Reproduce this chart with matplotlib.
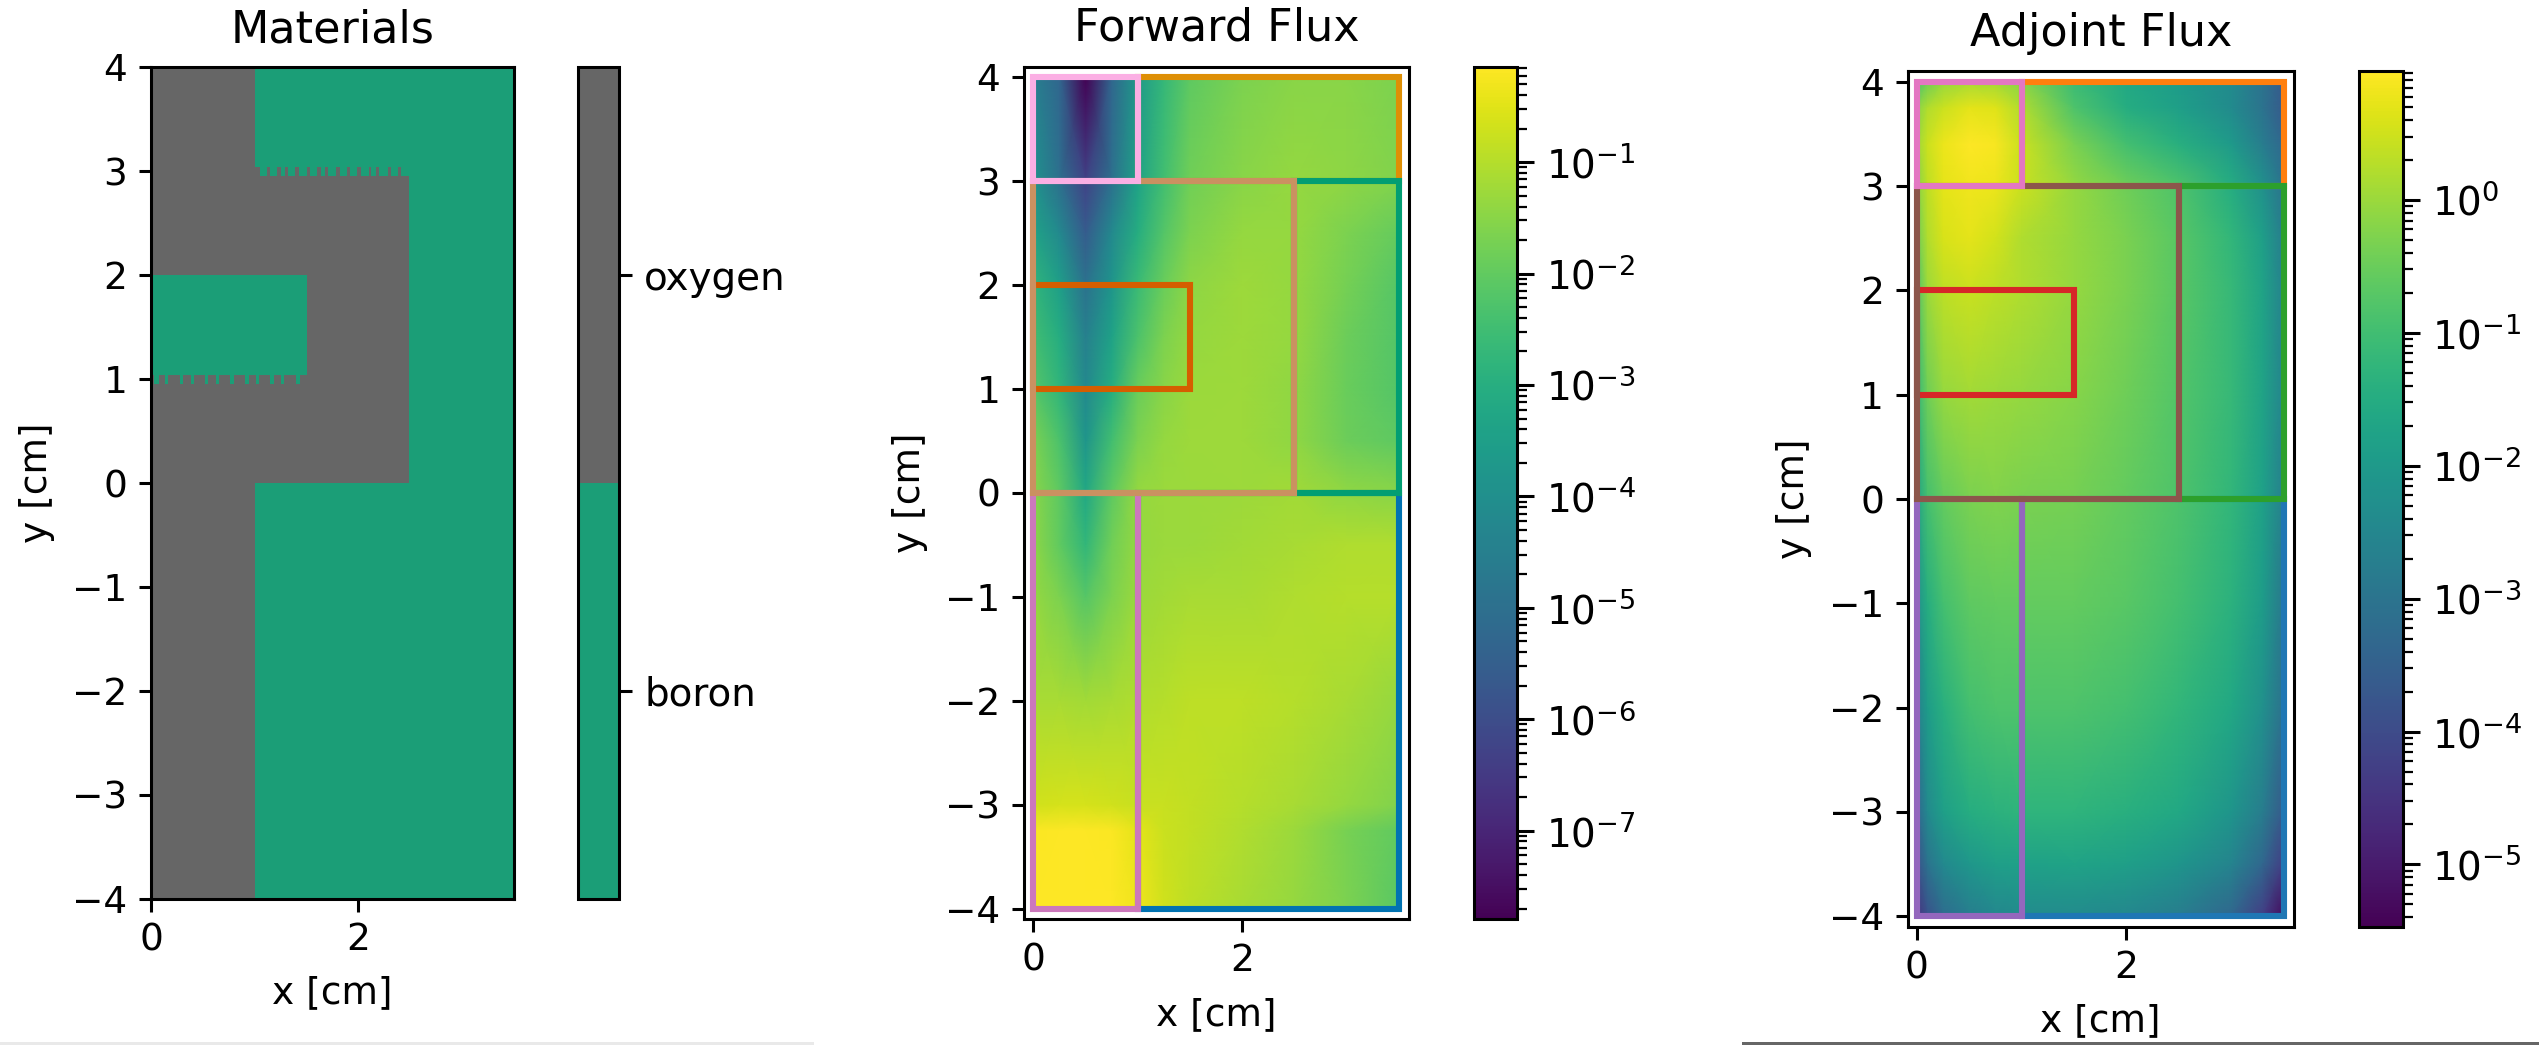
import numpy as np
import matplotlib
matplotlib.use("Agg")
import matplotlib.pyplot as plt
from matplotlib.colors import ListedColormap, BoundaryNorm, LogNorm
from matplotlib.patches import Rectangle
from matplotlib.ticker import LogLocator, NullFormatter

W, H = 2539, 1045
DPI = 100
TICK_FS = 27
LABEL_FS = 27
TITLE_FS = 32
plt.rcParams.update({
    "font.family": ["DejaVu Sans"],
    "font.size": TICK_FS,
    "axes.linewidth": 2.2,
    "xtick.major.size": 9, "ytick.major.size": 9,
    "xtick.major.width": 2.2, "ytick.major.width": 2.2,
    "ytick.minor.size": 5, "ytick.minor.width": 1.6,
    "xtick.major.pad": 8, "ytick.major.pad": 8,
})

# ---- data ----
material_names = ["boron", "oxygen"]
material_colors = ["#1b9e77", "#666666"]

# (x0, x1, y0, y1) rectangles of boron inside the oxygen background
boron_x0 = [1.0, 2.49, 1.0, 0.02]
boron_x1 = [3.5, 3.5, 3.5, 1.505]
boron_y0 = [-4.0, -4.0, 3.04, 1.04]
boron_y1 = [0.0, 4.0, 4.0, 2.0]

# jagged row under y=3: oxygen gaps inside a boron strip
row3_y = [2.954, 3.04]
row3_strip = [1.0, 2.49]
row3_gap_start = [1.007, 1.116, 1.213, 1.293, 1.393, 1.503, 1.605, 1.676, 1.789, 1.889, 1.992, 2.101, 2.168, 2.284, 2.384]
row3_gap_end = [1.049, 1.149, 1.252, 1.326, 1.432, 1.531, 1.644, 1.708, 1.821, 1.924, 2.030, 2.123, 2.201, 2.313, 2.416]

# jagged row under y=1: boron teeth
row1_y = [0.952, 1.04]
row1_tooth_start = [0.029, 0.135, 0.280, 0.383, 0.521, 0.624, 0.763, 0.907, 1.010, 1.149, 1.255, 1.397]
row1_tooth_end = [0.077, 0.167, 0.312, 0.415, 0.553, 0.656, 0.801, 0.946, 1.043, 1.187, 1.287, 1.438]

# regions: x0, x1, y0, y1
region_x0 = [1.0, 1.0, 2.5, 0.0, 0.0, 0.0, 0.0]
region_x1 = [3.5, 3.5, 3.5, 1.5, 1.0, 2.5, 1.0]
region_y0 = [-4.0, 3.0, 0.0, 1.0, -4.0, 0.0, 3.0]
region_y1 = [0.0, 4.0, 3.0, 2.0, 0.0, 3.0, 4.0]
forward_region_colors = ["#0173b2", "#de8f05", "#029e73", "#d55e00", "#cc78bc", "#ca9161", "#fbafe4"]
adjoint_region_colors = ["#1f77b4", "#ff7f0e", "#2ca02c", "#d62728", "#9467bd", "#8c564b", "#e377c2"]

# forward flux, log10
fwd_x = [0.0, 0.25, 0.5, 0.75, 1.0, 1.25, 1.5, 2.0, 2.5, 3.0, 3.5]
fwd_y = [4.0, 3.0, 2.5, 2.0, 1.5, 1.0, 0.5, 0.0, -0.5, -1.0, -2.0, -3.0, -3.25, -4.0]
fwd_log = [
    [-4.5, -5.3, -7.8, -5.3, -3.7, -2.7, -2.05, -1.65, -1.5, -1.5, -1.65],
    [-3.9, -5.0, -6.3, -5.0, -3.4, -2.45, -1.8, -1.5, -1.35, -1.45, -1.6],
    [-3.35, -4.2, -5.6, -4.2, -3.05, -2.2, -1.65, -1.35, -1.35, -1.65, -1.95],
    [-2.8, -3.5, -4.9, -3.8, -2.6, -1.9, -1.45, -1.25, -1.35, -1.75, -2.15],
    [-2.45, -3.05, -4.5, -3.4, -2.3, -1.65, -1.35, -1.25, -1.35, -1.85, -2.2],
    [-2.15, -2.8, -4.2, -3.05, -1.9, -1.5, -1.3, -1.25, -1.4, -1.9, -2.2],
    [-1.65, -2.3, -3.8, -2.45, -1.65, -1.35, -1.25, -1.25, -1.4, -1.85, -2.05],
    [-1.5, -2.05, -3.2, -2.05, -1.35, -1.3, -1.3, -1.25, -1.2, -1.4, -1.5],
    [-1.45, -2.0, -2.75, -1.8, -1.35, -1.3, -1.3, -1.2, -1.15, -1.05, -1.05],
    [-1.35, -1.65, -2.15, -1.65, -1.3, -1.2, -1.15, -1.15, -1.05, -1.0, -1.0],
    [-1.15, -1.15, -1.2, -1.15, -1.05, -1.0, -0.9, -0.9, -1.0, -1.15, -1.35],
    [-0.7, -0.65, -0.65, -0.7, -0.8, -0.8, -0.85, -1.0, -1.15, -1.35, -1.6],
    [-0.2, -0.15, -0.15, -0.2, -0.45, -0.75, -0.85, -1.05, -1.3, -1.7, -2.0],
    [-0.15, -0.15, -0.15, -0.15, -0.3, -0.7, -0.9, -1.15, -1.35, -1.65, -2.1],
]
fwd_vmin, fwd_vmax = 1.6e-8, 0.72
fwd_decades = [1e-7, 1e-6, 1e-5, 1e-4, 1e-3, 1e-2, 1e-1]

# adjoint flux, log10
adj_x = [0.0, 0.1, 0.25, 0.5, 0.75, 1.0, 1.5, 2.0, 2.5, 3.0, 3.3, 3.5]
adj_y = [4.0, 3.75, 3.4, 3.0, 2.5, 2.0, 1.0, 0.0, -1.0, -2.0, -3.0, -3.5, -4.0]
adj_log = [
    [-0.83, -0.45, -0.06, 0.13, 0.07, -0.19, -1.09, -1.61, -1.93, -2.38, -3.02, -3.67],
    [-0.19, 0.20, 0.45, 0.71, 0.65, 0.20, -0.83, -1.48, -1.86, -2.38, -3.02, -3.67],
    [0.00, 0.45, 0.78, 0.97, 0.91, 0.45, -0.32, -0.96, -1.41, -1.99, -2.77, -3.34],
    [-0.19, 0.33, 0.71, 0.84, 0.78, 0.45, -0.06, -0.45, -0.83, -1.48, -2.25, -3.02],
    [-0.45, 0.20, 0.58, 0.71, 0.52, 0.20, -0.06, -0.32, -0.70, -1.22, -1.86, -2.77],
    [-0.83, 0.00, 0.33, 0.45, 0.33, 0.20, -0.06, -0.32, -0.70, -1.15, -1.73, -2.64],
    [-1.22, -0.45, -0.06, 0.07, 0.00, -0.06, -0.19, -0.45, -0.77, -1.15, -1.73, -2.57],
    [-1.73, -0.96, -0.58, -0.32, -0.25, -0.32, -0.38, -0.58, -0.83, -1.22, -1.80, -2.70],
    [-2.25, -1.48, -0.96, -0.64, -0.58, -0.58, -0.58, -0.70, -0.96, -1.35, -1.93, -2.89],
    [-2.70, -1.93, -1.41, -0.96, -0.83, -0.83, -0.83, -0.96, -1.22, -1.61, -2.25, -3.09],
    [-3.34, -2.44, -1.86, -1.48, -1.35, -1.28, -1.28, -1.41, -1.61, -2.12, -2.77, -3.67],
    [-3.86, -3.02, -2.44, -2.06, -1.86, -1.80, -1.73, -1.86, -2.12, -2.57, -3.34, -4.31],
    [-4.50, -3.86, -3.22, -2.77, -2.50, -2.38, -2.38, -2.50, -2.77, -3.34, -4.31, -5.28],
]
adj_vmin, adj_vmax = 3.4e-6, 9.3
adj_decades = [1e-5, 1e-4, 1e-3, 1e-2, 1e-1, 1e0]

x_ticks = [0, 2]
y_ticks = [-4, -3, -2, -1, 0, 1, 2, 3, 4]


def add_px(fig, left, right, top, bottom):
    return fig.add_axes([left / W, 1 - bottom / H, (right - left) / W, (bottom - top) / H])


def style(ax, title, title_pad, xpad, ypad):
    ax.set_xticks(x_ticks)
    ax.set_yticks(y_ticks)
    ax.set_xlabel("x [cm]", fontsize=LABEL_FS, labelpad=xpad)
    ax.set_ylabel("y [cm]", fontsize=LABEL_FS, labelpad=ypad)
    ax.set_title(title, fontsize=TITLE_FS, pad=title_pad)


fig = plt.figure(figsize=(W / DPI, H / DPI), dpi=DPI, facecolor="white")

# ---- materials ----
ax1 = add_px(fig, 151, 513.5, 67.3, 898.7)
ax1.set_xlim(0, 3.5)
ax1.set_ylim(-4, 4)
ax1.set_facecolor(material_colors[1])
for a, b, c, d in zip(boron_x0, boron_x1, boron_y0, boron_y1):
    ax1.add_patch(Rectangle((a, c), b - a, d - c, fc=material_colors[0], ec="none", antialiased=False))
ax1.broken_barh([(row3_strip[0], row3_strip[1] - row3_strip[0])], (row3_y[0], row3_y[1] - row3_y[0]),
                facecolors=material_colors[0], antialiased=False)
ax1.broken_barh([(s, e - s) for s, e in zip(row3_gap_start, row3_gap_end)], (row3_y[0], row3_y[1] - row3_y[0]),
                facecolors=material_colors[1], antialiased=False)
ax1.broken_barh([(s, e - s) for s, e in zip(row1_tooth_start, row1_tooth_end)], (row1_y[0], row1_y[1] - row1_y[0]),
                facecolors=material_colors[0], antialiased=False)
style(ax1, "Materials", 18, 12, 12)

cax1 = add_px(fig, 577.5, 619, 67.3, 898.7)
mat_cmap = ListedColormap(material_colors)
mat_norm = BoundaryNorm([0, 1, 2], 2)
sm = plt.cm.ScalarMappable(norm=mat_norm, cmap=mat_cmap)
cb1 = fig.colorbar(sm, cax=cax1)
cb1.set_ticks([0.5, 1.5])
cb1.set_ticklabels(material_names)
cb1.ax.tick_params(labelsize=28, length=9, width=2.2, which="major", pad=9)
cb1.ax.minorticks_off()
cb1.outline.set_linewidth(2.2)


def flux_panel(box, cbox, xs, ys, logs, vmin, vmax, decades, colors, title, title_pad, xpad, ypad):
    ax = add_px(fig, *box)
    ax.set_xlim(-0.09, 3.6)
    ax.set_ylim(-4.1, 4.1)
    norm = LogNorm(vmin=vmin, vmax=vmax)
    mesh = ax.pcolormesh(xs, ys, 10.0 ** np.array(logs), cmap="viridis", norm=norm, shading="gouraud", rasterized=True)
    for a, b, c, d, col in zip(region_x0, region_x1, region_y0, region_y1, colors):
        ax.add_patch(Rectangle((a, c), b - a, d - c, fill=False, ec=col, lw=4.4, joinstyle="miter"))
    style(ax, title, title_pad, xpad, ypad)
    cax = add_px(fig, cbox[0], cbox[1], box[2], box[3])
    cb = fig.colorbar(mesh, cax=cax)
    cb.set_ticks(decades)
    cax.yaxis.set_minor_locator(LogLocator(base=10, subs=np.arange(2, 10), numticks=20))
    cax.yaxis.set_minor_formatter(NullFormatter())
    cax.tick_params(labelsize=28, which="major", length=12, width=2.2, pad=9)
    cax.tick_params(which="minor", length=7, width=1.6)
    cb.outline.set_linewidth(2.2)
    return ax


flux_panel((1024, 1409, 66.7, 919.3), (1474, 1516.5), fwd_x, fwd_y, fwd_log, fwd_vmin, fwd_vmax, fwd_decades,
           forward_region_colors, "Forward Flux", 19, 13, 12)
flux_panel((1907.5, 2294, 71.3, 926.7), (2359, 2403), adj_x, adj_y, adj_log, adj_vmin, adj_vmax, adj_decades,
           adjoint_region_colors, "Adjoint Flux", 18, 12, 12)

# thin page rules at the bottom edge of the picture
fig.add_artist(Rectangle((0, 0), 814 / W, 3.5 / H, transform=fig.transFigure, fc="#e9e9e9", ec="none"))
fig.add_artist(Rectangle((1742 / W, 0), (W - 1742) / W, 3.5 / H, transform=fig.transFigure, fc="#666666", ec="none"))

fig.savefig("out.png", dpi=DPI, facecolor="white")
